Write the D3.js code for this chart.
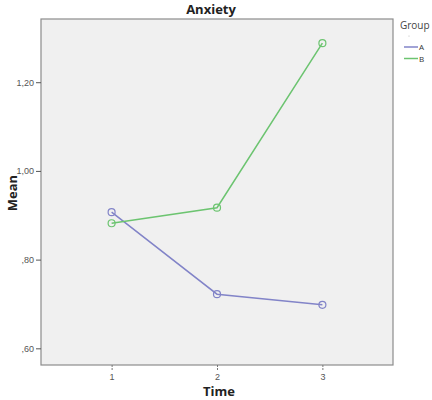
<!DOCTYPE html>
<html>
<head>
<meta charset="utf-8">
<style>
  body { margin: 0; background: #fff; }
  text { font-family: "Open Sans", "DejaVu Sans", sans-serif; }
</style>
</head>
<body>
<svg id="chart" width="432" height="400"></svg>
<script src="https://cdn.jsdelivr.net/npm/d3@7"></script>
<script>
// data
const times = [1, 2, 3];
const groups = ["A", "B"];
const meanA = [0.907, 0.722, 0.698];
const meanB = [0.882, 0.917, 1.288];
const yTicks = [0.6, 0.8, 1.0, 1.2];
const colors = {A: "#8284c8", B: "#6cc470"};

const svg = d3.select("#chart");
const plot = {left: 41, right: 393, top: 19, bottom: 365};

const x = d3.scaleLinear().domain([0.33, 3.67]).range([plot.left, plot.right]);
const y = d3.scaleLinear().domain([0.5624, 1.3425]).range([plot.bottom, plot.top]);

// plot background
svg.append("rect")
    .attr("x", plot.left).attr("y", plot.top)
    .attr("width", plot.right - plot.left).attr("height", plot.bottom - plot.top)
    .style("fill", "#f0f0f0")
    .style("stroke", "#8c8c8c")
    .style("stroke-width", 1.2);

// y axis
const fmt = d => d3.format(".2f")(d).replace(".", ",").replace(/^0/, "");
const yAxis = svg.append("g")
    .attr("transform", `translate(${plot.left},0)`)
    .call(d3.axisLeft(y).tickValues(yTicks).tickFormat(fmt).tickSize(5).tickPadding(2));
yAxis.select(".domain").remove();
yAxis.selectAll("line").style("stroke", "#555");
yAxis.selectAll("text").style("font-size", "9px").style("fill", "#555")
    .style("font-family", "Liberation Sans, Arial, sans-serif");

// x axis
const xAxis = svg.append("g")
    .attr("transform", `translate(0,${plot.bottom})`)
    .call(d3.axisBottom(x).tickValues(times).tickFormat(d3.format("d")).tickSize(5).tickPadding(4));
xAxis.select(".domain").remove();
xAxis.selectAll("line").style("stroke", "#777").style("stroke-dasharray", "2,1");
xAxis.selectAll("text").style("font-size", "9px").style("fill", "#555")
    .style("font-family", "Liberation Sans, Arial, sans-serif");

// lines + markers
const series = [{name: "A", values: meanA}, {name: "B", values: meanB}];
const line = d3.line().x((d, i) => x(times[i])).y(d => y(d));

series.forEach(s => {
    svg.append("path")
        .datum(s.values)
        .attr("d", line)
        .style("fill", "none")
        .style("stroke", colors[s.name])
        .style("stroke-width", 1.5);
    svg.selectAll(".pt" + s.name)
        .data(s.values)
        .enter()
        .append("circle")
            .attr("cx", (d, i) => x(times[i]))
            .attr("cy", d => y(d))
            .attr("r", 3.5)
            .style("fill", "none")
            .style("stroke", colors[s.name])
            .style("stroke-width", 1.2);
});

// titles
svg.append("text").attr("x", 211).attr("y", 14).attr("text-anchor", "middle")
    .style("font-size", "13px").style("font-weight", "bold").style("fill", "#222").text("Anxiety");
svg.append("text").attr("x", 219).attr("y", 396).attr("text-anchor", "middle")
    .style("font-size", "13px").style("font-weight", "bold").style("fill", "#222").text("Time");
svg.append("text").attr("transform", "translate(17,193) rotate(-90)").attr("text-anchor", "middle")
    .style("font-size", "13px").style("font-weight", "bold").style("fill", "#222").text("Mean");

// legend
svg.append("text").attr("x", 400).attr("y", 29)
    .style("font-size", "10px").style("fill", "#444").text("Group");
svg.append("circle").attr("cx", 409).attr("cy", 36).attr("r", 0.5).style("fill", "#aaa");
groups.forEach((g, i) => {
    const ly = 47 + i * 11.5;
    svg.append("line").attr("x1", 404).attr("x2", 418).attr("y1", ly).attr("y2", ly)
        .style("stroke", colors[g]).style("stroke-width", 1.5);
    svg.append("text").attr("x", 419).attr("y", ly + 3)
        .style("font-size", "8px").style("fill", "#333").text(g);
});
</script>
</body>
</html>
